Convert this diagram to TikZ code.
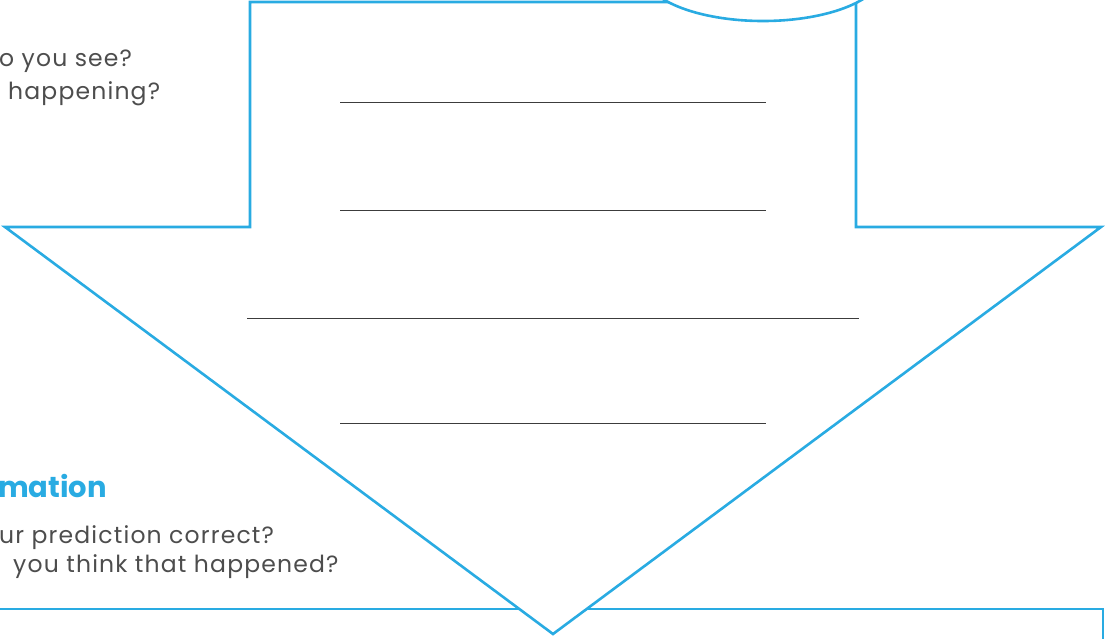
\documentclass[tikz,border=0pt]{standalone}
\usepackage{fontspec}
\usetikzlibrary{shapes.geometric}
\setmainfont{Poppins}
\newfontfamily\bodyfont[LetterSpace=5]{Poppins}
\definecolor{cyanline}{RGB}{41,171,226}
\definecolor{textgray}{RGB}{77,77,77}
\definecolor{rulegray}{RGB}{60,60,60}
\begin{document}
\begin{tikzpicture}[x=1pt,y=-1pt,
  shape line/.style={draw=cyanline,line width=2.6pt,line join=miter},
  write line/.style={draw=rulegray,line width=1pt},
  body/.style={font=\bodyfont\fontsize{23.5}{28}\selectfont,text=textgray,inner sep=0pt,anchor=base west},
  heading/.style={font=\fontsize{29}{34}\selectfont\bfseries,text=cyanline,inner sep=0pt,anchor=base west}]
\useasboundingbox (0,0) rectangle (1105,638);
\clip (0,0) rectangle (1105,638);
% lower panel frame
\coordinate (pl) at (-10,609);
\coordinate (pc) at (1103,609);
\coordinate (pb) at (1103,650);
\draw[shape line] (pl) -- (pc) -- (pb);
% arrow
\coordinate (a1) at (250,2);
\coordinate (a2) at (250,227);
\coordinate (a3) at (5,227);
\coordinate (tip) at (553,634);
\coordinate (a5) at (1101,227);
\coordinate (a6) at (856,227);
\coordinate (a7) at (856,2);
\draw[shape line,fill=white] (a1) -- (a2) -- (a3) -- (tip) -- (a5) -- (a6) -- (a7) -- cycle;
% top ellipse
\node[shape line,fill=white,ellipse,minimum width=240pt,minimum height=98pt,inner sep=0pt] (ell) at (763,-28) {};
% writing lines
\coordinate (l1a) at (340,102); \coordinate (l1b) at (766,102);
\coordinate (l2a) at (340,210); \coordinate (l2b) at (766,210);
\coordinate (l3a) at (247,318); \coordinate (l3b) at (859,318);
\coordinate (l4a) at (340,423); \coordinate (l4b) at (766,423);
\draw[write line] (l1a) -- (l1b);
\draw[write line] (l2a) -- (l2b);
\draw[write line] (l3a) -- (l3b);
\draw[write line] (l4a) -- (l4b);
% texts
\node[body] (t1) at (-1,66) {o you see?};
\node[body] (t2) at (8,99) {happening?};
\node[heading] (h2) at (-2,497) {mation};
\node[body] (t3) at (-1,543) {ur prediction correct?};
\node[body] (t4) at (13,572) {you think that happened?};
\end{tikzpicture}
\end{document}
